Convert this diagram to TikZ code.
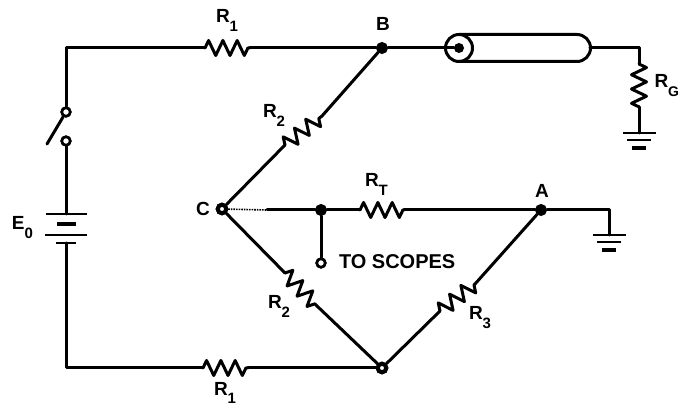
\documentclass[tikz,border=0pt]{standalone}
\usepackage{fontspec}
\setmainfont{Liberation Sans}
\usetikzlibrary{decorations.pathmorphing}
\newcommand{\lbl}[2]{\fontsize{19}{19}\selectfont\bfseries #1\raisebox{-8.5pt}{\fontsize{15}{15}\selectfont\bfseries #2}}
\tikzset{
  wire/.style={line width=3pt,line cap=round,line join=round},
  thinwire/.style={line width=1.6pt,densely dotted},
  res/.style={wire,decorate,decoration={zigzag,segment length=14.3pt,amplitude=7.5pt}},
  dotjunction/.style={circle,fill=black,draw=black,line width=1pt,minimum size=11pt,inner sep=0pt},
  ringjunction/.style={circle,fill=white,draw=black,line width=4pt,minimum size=8.5pt,inner sep=0pt},
  openterm/.style={circle,fill=white,draw=black,line width=2.6pt,minimum size=8.5pt,inner sep=0pt},
  txt/.style={anchor=base west,inner sep=0pt,outer sep=0pt},
  gnd/.pic={
    \draw[line width=2.4pt] (-16.5,0) -- (16.5,0);
    \draw[line width=2.4pt] (-12,7) -- (12,7);
    \draw[line width=3.4pt] (-7,15) -- (7,15);
  }
}
\begin{document}
\begin{tikzpicture}[x=1pt,y=-1pt]
\useasboundingbox (0,0) rectangle (681,406);
\fill[white] (0,0) rectangle (681,406);
% junctions and terminals
\node[dotjunction] (B) at (382,48) {};
\node[ringjunction] (C) at (222,209) {};
\node[dotjunction] (A) at (541,210) {};
\node[ringjunction] (D) at (382,368) {};
\node[dotjunction] (J) at (321,210) {};
\node[openterm] (S) at (321,263) {};
\node[openterm] (swT) at (66,112) {};
\node[openterm] (swB) at (66,141) {};
% resistor ends
\coordinate (r1a) at (205,48);  \coordinate (r1b) at (250,48);
\coordinate (r2a) at (285,145); \coordinate (r2b) at (322,116);
\coordinate (r4a) at (285,273); \coordinate (r4b) at (317,306);
\coordinate (r3a) at (440,311); \coordinate (r3b) at (475,284);
\coordinate (rta) at (360,210); \coordinate (rtb) at (404,210);
\coordinate (r5a) at (203,368); \coordinate (r5b) at (248,368);
\coordinate (rga) at (639,64);  \coordinate (rgb) at (639,107);
\coordinate (solid) at (267,210);
\coordinate (blade) at (47,144);
\coordinate (batT) at (66,214);
\coordinate (batB) at (66,243);
\coordinate (g1) at (639,133);
\coordinate (g2) at (609,235);
\coordinate (tubeEnd) at (590,48);
\coordinate (corner) at (609,210);
% coaxial cable
\node[circle,draw=black,line width=3pt,fill=white,minimum size=27pt,inner sep=0pt] (coax) at (459,48) {};
\node[circle,fill=black,minimum size=10pt,inner sep=0pt] (core) at (459,48) {};
\draw[wire] (459,34.5) -- (577,34.5) arc[start angle=-90,end angle=90,radius=13.5] -- (459,61.5);
% wiring
\draw[wire] (swT) |- (r1a);
\draw[wire] (r1b) -- (B);
\draw[wire] (B) -- (core);
\draw[wire] (tubeEnd) -| (rga);
\draw[wire] (rgb) -- (g1);
\draw[wire] (swT) -- (blade);
\draw[wire] (swB) -- (batT);
\draw[wire] (batB) |- (r5a);
\draw[wire] (r5b) -- (D);
\draw[wire] (C) -- (r2a);
\draw[wire] (r2b) -- (B);
\draw[wire] (C) -- (r4a);
\draw[wire] (r4b) -- (D);
\draw[wire] (D) -- (r3a);
\draw[wire] (r3b) -- (A);
\draw[thinwire] (C) -- (solid);
\draw[wire] (solid) -- (J);
\draw[wire] (J) -- (rta);
\draw[wire] (rtb) -- (A);
\draw[wire] (J) -- (S);
\draw[wire] (A) -- (corner) -- (g2);
% resistors
\draw[res] (r1a) -- (r1b);
\draw[res] (r5a) -- (r5b);
\draw[res] (rta) -- (rtb);
\draw[res] (r2a) -- (r2b);
\draw[res] (r4a) -- (r4b);
\draw[res] (r3a) -- (r3b);
\draw[res] (rga) -- (rgb);
% battery
\draw[line width=2.4pt] (46,214) -- (87,214);
\draw[line width=3.4pt] (57,224) -- (76,224);
\draw[line width=2.8pt] (45,235) -- (87,235);
\draw[line width=2.4pt] (56,243) -- (76,243);
% grounds
\pic at (g1) {gnd};
\pic at (g2) {gnd};
% redraw junction nodes over wires
\node[ringjunction] at (C) {};
\node[ringjunction] at (D) {};
\node[openterm] at (S) {};
\node[openterm] at (swT) {};
\node[openterm] at (swB) {};
% labels
\node[txt] (l1) at (216,23) {\lbl{R}{1}};
\node[txt] (l2) at (263,118) {\lbl{R}{2}};
\node[txt] (lB) at (376,31) {\lbl{B}{}};
\node[txt] (lT) at (365,187) {\lbl{R}{T}};
\node[txt] (lA) at (535,198) {\lbl{A}{}};
\node[txt] (lG) at (654.5,88) {\fontsize{19}{19}\selectfont\bfseries R\raisebox{-8.5pt}{\fontsize{14}{14}\selectfont\bfseries G}};
\node[txt] (lC) at (196,216) {\lbl{C}{}};
\node[txt] (lE) at (12,230) {\lbl{E}{0}};
\node[txt] (l4) at (268,309) {\lbl{R}{2}};
\node[txt] (l5) at (214,395.5) {\lbl{R}{1}};
\node[txt] (l3) at (469,320) {\lbl{R}{3}};
\node[txt] (lS) at (339,269) {\fontsize{20}{20}\selectfont\bfseries TO SCOPES};
\end{tikzpicture}
\end{document}
